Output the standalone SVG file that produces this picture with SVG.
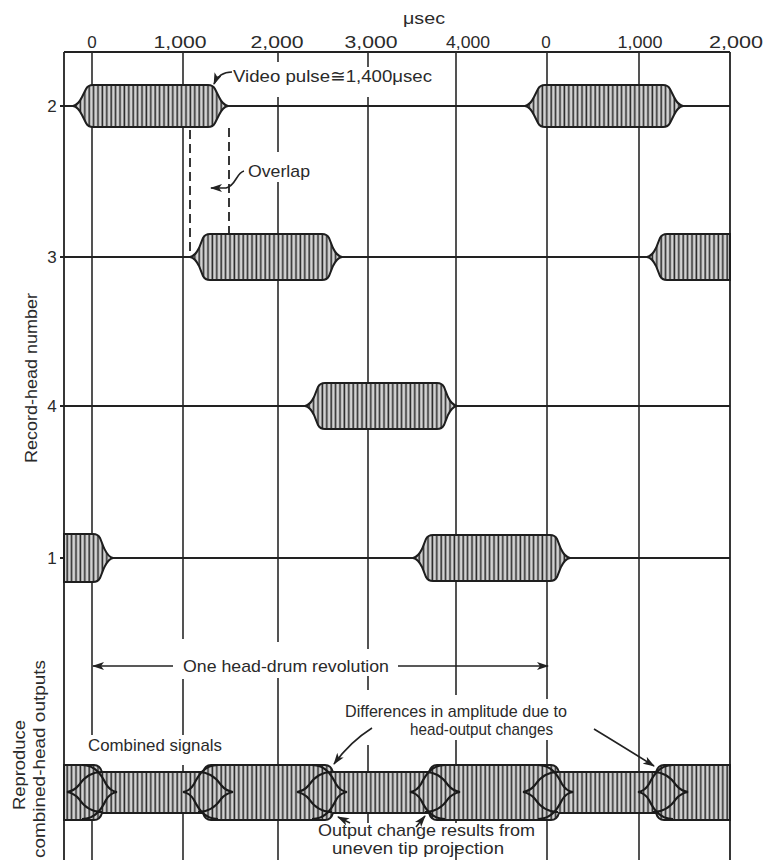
<svg xmlns="http://www.w3.org/2000/svg" width="767" height="860" viewBox="0 0 767 860">
<style>
.ln{stroke:#222;stroke-width:1.8;fill:none}
.grid{stroke:#2a2a2a;stroke-width:1.6;fill:none}
.pulse{fill:url(#hatch);stroke:#1e1e1e;stroke-width:2}
.dash{stroke:#222;stroke-width:1.8;fill:none;stroke-dasharray:9 5}
.dia{stroke:#1a1a1a;stroke-width:2.2;fill:none}
.arr{stroke:#222;stroke-width:1.6;fill:none;marker-end:url(#ah)}
text{font-family:"Liberation Sans","DejaVu Sans",Arial,sans-serif;fill:#2a2a2a;font-size:17px}
.num{font-size:17px;text-anchor:middle}
</style>
<defs>
<pattern id="hatch" patternUnits="userSpaceOnUse" width="4.4" height="10">
<rect width="4.4" height="10" fill="#d2d2d2"/>
<line x1="1.2" y1="0" x2="1.2" y2="10" stroke="#2c2c2c" stroke-width="1.6"/>
</pattern>
<marker id="ah" markerUnits="userSpaceOnUse" markerWidth="12" markerHeight="8" refX="11" refY="4" orient="auto">
<path d="M0,0 L12,4 L0,8 L3,4 Z" fill="#222"/>
</marker>
</defs>
<rect width="767" height="860" fill="#fff"/>

<g id="axis">
<text x="403" y="24" textLength="42" lengthAdjust="spacingAndGlyphs">μsec</text>
<text class="num" x="92" y="48">0</text>
<text class="num" x="180" y="48" textLength="53" lengthAdjust="spacingAndGlyphs">1,000</text>
<text class="num" x="277" y="48" textLength="53" lengthAdjust="spacingAndGlyphs">2,000</text>
<text class="num" x="371" y="48" textLength="53" lengthAdjust="spacingAndGlyphs">3,000</text>
<text class="num" x="468" y="48" textLength="44" lengthAdjust="spacingAndGlyphs">4,000</text>
<text class="num" x="546" y="48">0</text>
<text class="num" x="640" y="48" textLength="45" lengthAdjust="spacingAndGlyphs">1,000</text>
<text class="num" x="736" y="48" textLength="54" lengthAdjust="spacingAndGlyphs">2,000</text>
</g>

<g id="frame">
<path class="ln" d="M64,52 H730 M64,52 V860 M730,52 V860"/>
</g>

<g id="grid">
<path class="grid" d="M92,52 V735 M92,765 V860
M183,52 V639 M183,679 V735 M183,765 V860
M278,52 V62 M278,97 V152 M278,182 V642 M278,678 V860
M368,52 V67 M368,97 V649 M368,676 V690 M368,745 V823
M456,52 V695 M456,740 V823 M456,845 V860
M547,52 V699 M547,740 V860
M639,52 V860"/>
</g>

<g id="row-lines">
<path class="ln" d="M60,106 H730 M60,257 H730 M60,406 H730 M60,558 H730"/>
<text class="num" x="52" y="112">2</text>
<text class="num" x="52" y="263">3</text>
<text class="num" x="52" y="412">4</text>
<text class="num" x="52" y="564">1</text>
<text transform="translate(37,378) rotate(-90)" text-anchor="middle" font-size="16" textLength="170" lengthAdjust="spacingAndGlyphs">Record-head number</text>
</g>

<g id="head-2">
<path class="pulse" d="M73,106 C78,105 80,101 82,97 L86,89 Q88,85 93,85 H208 Q213,85 215,89 L219,97 C221,101 223,105 228,106 C223,107 221,111 219,115 L215,123 Q213,127 208,127 H93 Q88,127 86,123 L82,115 C80,111 78,107 73,106 Z"/>
<path class="pulse" d="M525,106 C530,105 532,101 534,97 L538,89 Q540,85 545,85 H663 Q668,85 670,89 L674,97 C676,101 678,105 683,106 C678,107 676,111 674,115 L670,123 Q668,127 663,127 H545 Q540,127 538,123 L534,115 C532,111 530,107 525,106 Z"/>
</g>

<g id="head-3">
<path class="pulse" d="M190,257 C195,256 197,252 199,248 L203,238 Q205,234 210,234 H322 Q327,234 329,238 L333,248 C335,252 337,256 342,257 C337,258 335,262 333,266 L329,276 Q327,280 322,280 H210 Q205,280 203,276 L199,266 C197,262 195,258 190,257 Z"/>
<path class="pulse" d="M647,257 C652,256 654,252 656,248 L660,238 Q662,234 667,234 H730 V280 H667 Q662,280 660,276 L656,266 C654,262 652,258 647,257 Z"/>
</g>

<g id="head-4">
<path class="pulse" d="M305,406 C310,405 312,401 314,397 L318,387 Q320,383 325,383 H437 Q442,383 444,387 L448,397 C450,401 452,405 457,406 C452,407 450,411 448,415 L444,425 Q442,429 437,429 H325 Q320,429 318,425 L314,415 C312,411 310,407 305,406 Z"/>
</g>

<g id="head-1">
<path class="pulse" d="M64,534 H93 Q98,534 100,538 L104,548 C106,552 108,557 113,558 C108,559 106,564 104,568 L100,578 Q98,582 93,582 H64 Z"/>
<path class="pulse" d="M413,558 C418,557 420,553 422,549 L426,539 Q428,535 433,535 H550 Q555,535 557,539 L561,549 C563,553 565,557 570,558 C565,559 563,563 561,567 L557,577 Q555,581 550,581 H433 Q428,581 426,577 L422,567 C420,563 418,559 413,558 Z"/>
</g>

<g id="combined">
<path class="pulse" d="M64,765 H94 Q100,765 102,772 H203 Q205,765 211,765 H325 Q331,765 333,772 H429 Q431,765 437,765 H551 Q557,765 559,772 H656 Q658,765 664,765 H730 V820 H664 Q658,820 656,813 H559 Q557,820 551,820 H437 Q431,820 429,813 H333 Q331,820 325,820 H211 Q205,820 203,813 H102 Q100,820 94,820 H64 Z"/>
<path class="dia" d="M82,765 C96,765 102,776 106,784 Q110,791 117,792 Q110,793 106,800 C102,808 96,819 82,819 M102,772 C90,772 83,779 79,785 Q74,791 67,792 Q74,793 79,799 C83,805 90,812 102,812"/>
<path class="dia" d="M198,772 C210,772 217,779 221,785 Q226,791 233,792 Q226,793 221,799 C217,805 210,812 198,812 M218,765 C204,765 198,776 194,784 Q190,791 183,792 Q190,793 194,800 C198,808 204,819 218,819"/>
<path class="dia" d="M312,765 C326,765 332,776 336,784 Q340,791 347,792 Q340,793 336,800 C332,808 326,819 312,819 M332,772 C320,772 313,779 309,785 Q304,791 297,792 Q304,793 309,799 C313,805 320,812 332,812"/>
<path class="dia" d="M425,772 C437,772 444,779 448,785 Q453,791 460,792 Q453,793 448,799 C444,805 437,812 425,812 M445,765 C431,765 425,776 421,784 Q417,791 410,792 Q417,793 421,800 C425,808 431,819 445,819"/>
<path class="dia" d="M538,765 C552,765 558,776 562,784 Q566,791 573,792 Q566,793 562,800 C558,808 552,819 538,819 M558,772 C546,772 539,779 535,785 Q530,791 523,792 Q530,793 535,799 C539,805 546,812 558,812"/>
<path class="dia" d="M653,772 C665,772 672,779 676,785 Q681,791 688,792 Q681,793 676,799 C672,805 665,812 653,812 M673,765 C659,765 653,776 649,784 Q645,791 638,792 Q645,793 649,800 C653,808 659,819 673,819"/>
<text transform="translate(25,765) rotate(-90)" text-anchor="middle" font-size="16" textLength="90" lengthAdjust="spacingAndGlyphs">Reproduce</text>
<text transform="translate(45,759) rotate(-90)" text-anchor="middle" font-size="16" textLength="198" lengthAdjust="spacingAndGlyphs">combined-head outputs</text>
</g>

<g id="connectors">
<path class="dash" d="M190,130 V254 M229,128 V233"/>
<path class="arr" d="M232,72 Q219,72 214,84"/>
<path class="arr" d="M244,171 C236,173 236,186 226,188 L211,188"/>
<path class="arr" d="M173,666 H93"/>
<path class="arr" d="M398,666 H548"/>
<path class="arr" d="M372,728 Q350,742 334,764"/>
<path class="arr" d="M594,729 Q622,746 654,766"/>
<path class="arr" d="M350,823 L338,817"/>
<path class="arr" d="M416,827 L425,816"/>
</g>

<g id="labels">
<text x="233" y="82" textLength="199" lengthAdjust="spacingAndGlyphs">Video pulse≅1,400μsec</text>
<text x="248" y="177" textLength="62" lengthAdjust="spacingAndGlyphs">Overlap</text>
<text x="183" y="672" textLength="206" lengthAdjust="spacingAndGlyphs">One head-drum revolution</text>
<text x="345" y="717" textLength="222" lengthAdjust="spacingAndGlyphs">Differences in amplitude due to</text>
<text x="410" y="735" textLength="143" lengthAdjust="spacingAndGlyphs">head-output changes</text>
<text x="88" y="751" textLength="134" lengthAdjust="spacingAndGlyphs">Combined signals</text>
<text x="318" y="836" font-size="15.5" textLength="217" lengthAdjust="spacingAndGlyphs">Output change results from</text>
<text x="332" y="854" font-size="15.5" textLength="172" lengthAdjust="spacingAndGlyphs">uneven tip projection</text>
</g>
</svg>
